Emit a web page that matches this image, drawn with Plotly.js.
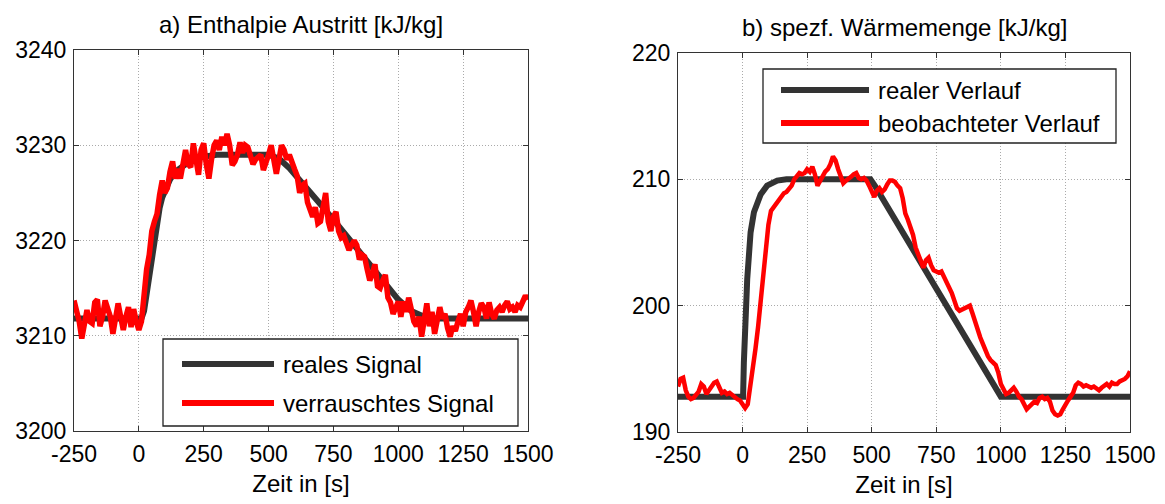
<!DOCTYPE html>
<html>
<head>
<meta charset="utf-8">
<script src="https://cdn.plot.ly/plotly-3.0.1.min.js"></script>
<style>html,body{margin:0;padding:0;background:#fff;}#chart{width:1165px;height:504px;}</style>
</head>
<body>
<div id="chart"></div>
<script>
// ---- Data ----
const zeit = [
  -250,-240,-230,-220,-210,-200,-190,-180,-170,-160,
  -150,-140,-130,-120,-110,-100,-90,-80,-70,-60,
  -50,-40,-30,-20,-10,0,10,20,30,40,
  50,60,70,80,90,100,110,120,130,140,
  150,160,170,180,190,200,210,220,230,240,
  250,260,270,280,290,300,310,320,330,340,
  350,360,370,380,390,400,410,420,430,440,
  450,460,470,480,490,500,510,520,530,540,
  550,560,570,580,590,600,610,620,630,640,
  650,660,670,680,690,700,710,720,730,740,
  750,760,770,780,790,800,810,820,830,840,
  850,860,870,880,890,900,910,920,930,940,
  950,960,970,980,990,1000,1010,1020,1030,1040,
  1050,1060,1070,1080,1090,1100,1110,1120,1130,1140,
  1150,1160,1170,1180,1190,1200,1210,1220,1230,1240,
  1250,1260,1270,1280,1290,1300,1310,1320,1330,1340,
  1350,1360,1370,1380,1390,1400,1410,1420,1430,1440,
  1450,1460,1470,1480,1490,1500
];

// a) Enthalpie Austritt – verrauschtes Signal
const enthalpieVerrauscht = [
  3213.7,3212.8,3211.5,3209.7,3211.5,3212.7,3211.5,3211.3,3213.5,3213.8,
  3211.0,3212.0,3213.7,3212.8,3212.0,3210.2,3212.0,3213.4,3212.0,3210.6,
  3212.0,3213.0,3210.9,3212.8,3211.5,3210.6,3211.5,3214.5,3217.0,3218.5,
  3221.0,3222.0,3222.8,3224.8,3226.3,3225.0,3225.5,3227.2,3228.3,3226.5,
  3227.5,3226.5,3228.5,3229.5,3228.0,3227.7,3230.2,3228.0,3226.9,3229.5,
  3230.2,3228.0,3226.5,3228.5,3230.0,3230.5,3229.5,3230.9,3230.0,3231.2,
  3230.0,3227.9,3228.3,3229.0,3230.3,3229.2,3230.0,3229.8,3229.0,3228.0,
  3228.5,3228.8,3229.0,3227.4,3228.5,3229.0,3230.0,3228.5,3227.0,3228.5,
  3230.0,3229.5,3228.5,3229.0,3228.0,3227.5,3226.8,3225.0,3225.8,3226.0,
  3224.0,3223.0,3222.5,3223.5,3221.8,3222.0,3223.8,3225.0,3222.0,3221.0,
  3222.5,3223.0,3221.0,3220.3,3220.5,3219.8,3219.0,3219.5,3220.0,3219.5,
  3218.0,3218.5,3218.3,3217.0,3215.8,3216.5,3217.5,3215.2,3215.0,3215.8,
  3216.4,3214.0,3213.5,3212.3,3213.0,3213.6,3212.0,3213.6,3212.5,3214.0,
  3212.8,3211.5,3211.0,3212.0,3209.9,3211.5,3213.4,3211.0,3212.5,3210.2,
  3211.5,3213.0,3211.8,3212.3,3210.8,3209.9,3211.0,3210.5,3211.5,3212.3,
  3211.0,3212.5,3213.0,3213.7,3212.5,3211.0,3212.5,3213.4,3213.0,3211.8,
  3213.5,3212.3,3211.8,3212.7,3213.0,3212.5,3213.2,3213.6,3212.8,3213.0,
  3212.5,3213.2,3213.0,3213.8,3214.2,3213.8
];

// a) Enthalpie Austritt – reales Signal
const zeitRealA = [-250,10,20,30,40,50,60,70,80,90,105,120,140,170,200,250,300,500,540,580,620,660,700,750,800,850,900,950,1000,1050,1100,1150,1500];
const enthalpieReal = [3211.8,3211.8,3212.6,3214.5,3216.5,3218.6,3220.5,3222.0,3223.4,3224.5,3225.6,3226.4,3227.2,3227.9,3228.4,3228.8,3229.0,3229.0,3228.6,3227.6,3226.4,3225.2,3223.8,3222.2,3220.5,3218.9,3217.2,3215.4,3213.8,3212.6,3212.0,3211.8,3211.8];

// b) spezf. Wärmemenge – beobachteter Verlauf
const waermeBeobachtet = [
  193.6,194.2,194.3,193.3,192.8,192.6,192.7,192.9,193.2,193.8,
  193.6,193.0,193.3,193.6,193.9,194.0,193.5,193.1,193.2,193.0,
  193.1,192.9,192.7,192.6,192.5,192.2,191.9,192.2,193.5,195.0,
  196.6,198.3,200.5,202.8,204.8,206.4,207.5,207.8,208.0,208.3,
  208.6,208.9,209.0,209.2,209.5,210.0,210.2,210.5,210.4,210.5,
  210.8,210.6,211.0,210.4,209.5,209.9,210.3,210.6,210.8,211.2,
  211.8,211.5,210.8,210.1,209.7,209.9,210.0,210.2,210.4,210.5,
  210.1,210.0,210.1,209.9,209.5,209.0,208.6,209.1,209.3,209.0,
  209.2,209.6,209.9,209.9,209.8,209.5,209.3,208.5,207.3,206.8,
  206.2,205.6,204.6,204.0,203.4,203.0,203.6,203.8,203.2,202.8,
  202.7,202.6,202.7,202.3,201.8,201.4,201.0,200.4,199.8,199.6,
  199.7,199.8,199.9,200.0,199.4,198.7,198.2,197.5,197.0,196.4,
  196.0,195.7,195.5,195.3,194.7,193.8,193.4,193.0,193.1,193.3,
  193.5,193.2,192.8,192.6,192.2,191.8,192.0,192.2,192.4,192.3,
  192.7,192.8,192.6,192.7,192.4,191.7,191.4,191.3,191.4,191.8,
  192.2,192.5,192.8,193.1,193.7,193.9,193.8,193.6,193.7,193.6,
  193.5,193.6,193.4,193.3,193.5,193.7,193.8,193.6,193.9,193.8,
  193.8,194.0,194.1,194.2,194.4,194.8
];

// b) spezf. Wärmemenge – realer Verlauf
const zeitRealB = [-250,2,5,10,18,31,44,70,95,134,170,495,515,1000,1500];
const waermeReal = [192.8,192.8,195.5,198.5,202.1,205.8,207.4,208.8,209.5,209.9,210.0,210.0,209.4,192.8,192.8];

const xTicks = [-250,0,250,500,750,1000,1250,1500];
const xTickText = ['-250','0','250','500','750','1000','1250','1500'];
const yTicksA = [3200,3210,3220,3230,3240];
const yTicksB = [190,200,210,220];
const legendA = ['reales Signal','verrauschtes Signal'];
const legendB = ['realer Verlauf','beobachteter Verlauf'];
const titles = ['a) Enthalpie Austritt [kJ/kg]','b) spezf. Wärmemenge [kJ/kg]'];
const xTitle = 'Zeit in [s]';

// ---- Styling ----
const W = 1165, H = 504;
const FONT = 'Liberation Sans, Arial, Helvetica, sans-serif';
const DARK = '#333333', RED = '#ff0000';
const px = v => v / W;
const py = v => 1 - v / H;

const traces = [
  {x: zeitRealA, y: enthalpieReal, xaxis:'x', yaxis:'y', mode:'lines', name: legendA[0], line:{color:DARK, width:6}, showlegend:false},
  {x: zeit, y: enthalpieVerrauscht, xaxis:'x', yaxis:'y', mode:'lines', name: legendA[1], line:{color:RED, width:5.5}, showlegend:false},
  {x: zeitRealB, y: waermeReal, xaxis:'x2', yaxis:'y2', mode:'lines', name: legendB[0], line:{color:DARK, width:6}, showlegend:false},
  {x: zeit, y: waermeBeobachtet, xaxis:'x2', yaxis:'y2', mode:'lines', name: legendB[1], line:{color:RED, width:4.5}, showlegend:false}
];

function xax(domain, anchor) {
  return {
    domain: domain, anchor: anchor, range: [-250, 1500], tickvals: xTicks, ticktext: xTickText,
    ticks: 'inside', ticklen: 5, tickcolor: '#333', mirror: 'ticks',
    showline: true, linecolor: '#333', linewidth: 1,
    showgrid: true, gridcolor: '#aaaaaa', gridwidth: 1, griddash: '1px,2px',
    zeroline: false, tickfont: {family: FONT, size: 23, color: '#000'},
    ticklabelstandoff: 2,
    title: {text: xTitle, font: {family: FONT, size: 24, color: '#000'}, standoff: 9},
    fixedrange: true
  };
}
function yax(domain, anchor, range, tv) {
  return {
    domain: domain, anchor: anchor, range: range, tickvals: tv,
    ticks: 'inside', ticklen: 5, tickcolor: '#333', mirror: 'ticks',
    showline: true, linecolor: '#333', linewidth: 1,
    showgrid: true, gridcolor: '#aaaaaa', gridwidth: 1, griddash: '1px,2px',
    zeroline: false, tickfont: {family: FONT, size: 23, color: '#000'},
    ticklabelstandoff: 2, fixedrange: true
  };
}

const shapes = [];
const annotations = [];
function addLegend(box, lineX0, lineX1, textX, rowsY, labels) {
  shapes.push({type:'rect', xref:'paper', yref:'paper', layer:'above',
    x0: px(box[0]), x1: px(box[1]), y0: py(box[2]), y1: py(box[3]),
    line:{color:'#222', width:1.3}, fillcolor:'#ffffff'});
  const cols = [DARK, RED];
  labels.forEach((lab, i) => {
    shapes.push({type:'line', xref:'paper', yref:'paper', layer:'above',
      x0: px(lineX0), x1: px(lineX1), y0: py(rowsY[i]), y1: py(rowsY[i]),
      line:{color: cols[i], width: 6}});
    annotations.push({xref:'paper', yref:'paper', x: px(textX), y: py(rowsY[i]),
      xanchor:'left', yanchor:'middle', showarrow:false, text: lab,
      font:{family: FONT, size: 24, color:'#000'}});
  });
}
addLegend([163, 518, 339, 426], 182, 274, 281, [364, 403], legendA);
addLegend([763, 1116, 69, 143], 781, 869, 876, [90, 123], legendB);

annotations.push({xref:'paper', yref:'paper', x: px(301), y: py(24), xanchor:'center', yanchor:'middle',
  showarrow:false, text: titles[0], font:{family: FONT, size: 24, color:'#000'}});
annotations.push({xref:'paper', yref:'paper', x: px(904), y: py(27), xanchor:'center', yanchor:'middle',
  showarrow:false, text: titles[1], font:{family: FONT, size: 24, color:'#000'}});

const layout = {
  width: W, height: H,
  margin: {l:0, r:0, t:0, b:0},
  paper_bgcolor: '#ffffff', plot_bgcolor: '#ffffff',
  showlegend: false,
  xaxis: xax([px(74), px(528)], 'y'),
  yaxis: yax([py(431), py(50)], 'x', [3200, 3240], yTicksA),
  xaxis2: xax([px(678), px(1130)], 'y2'),
  yaxis2: yax([py(432), py(53)], 'x2', [190, 220], yTicksB),
  shapes: shapes,
  annotations: annotations
};

Plotly.newPlot('chart', traces, layout, {displayModeBar: false, staticPlot: true});
</script>
</body>
</html>
